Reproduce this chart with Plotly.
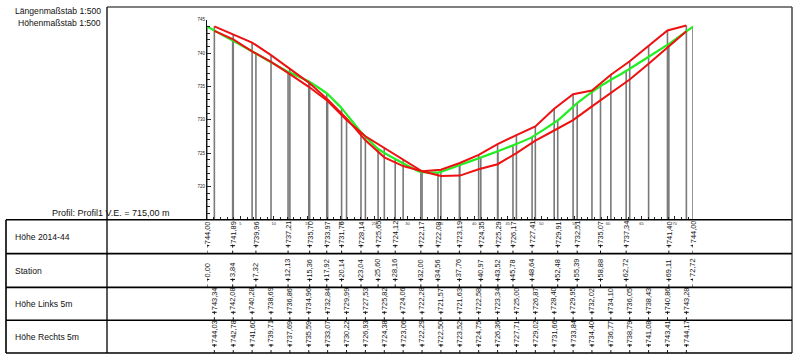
import plotly.graph_objects as go

# ---------------- data ----------------
station = [0.00, 3.84, 7.32, 12.13, 15.36, 17.92, 20.14, 23.04, 25.60, 28.16, 32.00, 34.56,
           37.76, 40.97, 43.52, 45.78, 48.64, 52.48, 55.39, 58.88, 62.72, 69.11, 72.72]
hoehe = [744.00, 741.89, 739.96, 737.21, 735.70, 733.97, 731.76, 728.14, 725.65, 724.12, 722.17, 722.08,
         723.19, 724.35, 725.29, 726.17, 727.41, 729.91, 732.51, 735.07, 737.34, 741.40, 744.00]

lr_station = [1.10, 3.93, 6.75, 9.58, 12.40, 15.23, 18.05, 20.88, 23.70, 26.53, 29.35, 32.18, 35.00,
              37.83, 40.65, 43.48, 46.30, 49.13, 51.95, 54.78, 57.60, 60.43, 63.25, 66.08, 68.90, 71.73]
links = [743.34, 742.08, 740.28, 738.69, 736.86, 734.96, 732.84, 729.99, 727.53, 725.82, 724.06, 722.28, 721.57,
         721.63, 722.58, 723.34, 725.00, 726.87, 728.40, 729.95, 732.02, 734.10, 736.05, 738.43, 740.86, 743.28]
rechts = [744.03, 742.78, 741.60, 739.71, 737.69, 735.59, 733.07, 730.22, 726.93, 724.38, 723.06, 722.29, 722.50,
          723.52, 724.75, 726.36, 727.71, 729.02, 731.66, 733.84, 734.40, 736.77, 738.79, 741.08, 743.41, 744.17]

row_titles = ["Höhe 2014-44", "Station", "Höhe Links 5m", "Höhe Rechts 5m"]
datum = 715.0
y_ticks = [720, 725, 730, 735, 740, 745]
x_ticks = [5, 10, 15, 20, 25, 30, 35, 40, 45, 50, 55, 60, 65, 70]

# ---------------- layout constants (pixels) ----------------
W, H = 800, 361
X_AX0, X_AX1 = 207, 693
Y_BASE, Y_TOP = 219, 18
ROWS = [219, 253, 287, 320, 353]
T_LEFT, T_DIV, T_RIGHT, F_TOP = 6, 107, 792, 5
FONT = "Liberation Sans, Arial, sans-serif"


def fmt(v):
    return f"{v:.2f}".replace(".", ",")


fig = go.Figure()

# gray station verticals
vx, vy = [], []
for s, h in zip(station, hoehe):
    vx += [s, s, None]
    vy += [datum, h, None]
for s, l, r in zip(lr_station, links, rechts):
    vx += [s, s, None]
    vy += [datum, max(l, r), None]
fig.add_trace(go.Scatter(x=vx, y=vy, mode="lines", line=dict(color="#7a7a7a", width=1.6),
                         hoverinfo="skip", showlegend=False))

fig.add_trace(go.Scatter(x=station, y=hoehe, mode="lines",
                         line=dict(color="#22ee22", width=2.2, shape="spline", smoothing=0.3),
                         showlegend=False, name="Höhe 2014-44"))
fig.add_trace(go.Scatter(x=lr_station, y=links, mode="lines", line=dict(color="#ee1111", width=2),
                         showlegend=False, name="Höhe Links 5m"))
fig.add_trace(go.Scatter(x=lr_station, y=rechts, mode="lines", line=dict(color="#ee1111", width=2),
                         showlegend=False, name="Höhe Rechts 5m"))

# invisible pixel overlay axes for frame/table
fig.add_trace(go.Scatter(x=[0], y=[0], xaxis="x2", yaxis="y2", mode="markers",
                         marker=dict(opacity=0), hoverinfo="skip", showlegend=False))

shapes = []


def pline(x0, y0, x1, y1, color="#000", width=1.5):
    shapes.append(dict(type="line", xref="x2", yref="y2", x0=x0, y0=y0, x1=x1, y1=y1,
                       line=dict(color=color, width=width), layer="above"))


# outer frame of profile
pline(T_DIV, F_TOP, T_RIGHT, F_TOP, "#555", 1.5)
pline(T_RIGHT, F_TOP, T_RIGHT, ROWS[-1], "#444", 1.5)
pline(T_DIV, F_TOP, T_DIV, ROWS[-1], "#222", 1.5)
# table
for yy in ROWS:
    pline(T_LEFT, yy, T_RIGHT, yy, "#000", 1.6)
pline(T_LEFT, ROWS[0], T_LEFT, ROWS[-1], "#000", 1.6)

annotations = []
annotations.append(dict(text="Längenmaßstab 1:500", x=103, y=9, xref="x2", yref="y2", xanchor="right",
                        yanchor="middle", showarrow=False, font=dict(family=FONT, size=8.6, color="#111")))
annotations.append(dict(text="Höhenmaßstab 1:500", x=103, y=21, xref="x2", yref="y2", xanchor="right",
                        yanchor="middle", showarrow=False, font=dict(family=FONT, size=8.6, color="#111")))
annotations.append(dict(text="Profil: Profil1 V.E. = 715,00 m", x=50, y=212, xref="x2", yref="y2", xanchor="left",
                        yanchor="middle", showarrow=False, font=dict(family=FONT, size=9, color="#111")))

for i, t in enumerate(row_titles):
    yc = (ROWS[i] + ROWS[i + 1]) / 2
    annotations.append(dict(text=t, x=13, y=yc, xref="x2", yref="y2", xanchor="left", yanchor="middle",
                            showarrow=False, font=dict(family=FONT, size=8.6, color="#111")))

row_data = [
    (station, [fmt(v) for v in hoehe]),
    (station, [fmt(v) for v in station]),
    (lr_station, [fmt(v) for v in links]),
    (lr_station, [fmt(v) for v in rechts]),
]
for i, (xs, labels) in enumerate(row_data):
    rb = ROWS[i + 1]
    for s, lab in zip(xs, labels):
        annotations.append(dict(text=lab, x=s, y=rb - 9, xref="x", yref="y2", xanchor="center", yanchor="bottom",
                                textangle=-90, showarrow=False, borderpad=0,
                                font=dict(family=FONT, size=7.4, color="#111")))
        shapes.append(dict(type="line", xref="x", yref="y2", x0=s - 0.35, x1=s + 0.35, y0=rb - 8, y1=rb - 8,
                           line=dict(color="#111", width=1)))
        shapes.append(dict(type="line", xref="x", yref="y2", x0=s, x1=s, y0=rb - 9, y1=rb - 6,
                           line=dict(color="#111", width=1)))
        shapes.append(dict(type="line", xref="x", yref="y2", x0=s, x1=s, y0=rb - 3, y1=rb,
                           line=dict(color="#111", width=1)))

fig.update_layout(
    width=W, height=H, margin=dict(l=0, r=0, t=0, b=0),
    paper_bgcolor="white", plot_bgcolor="rgba(0,0,0,0)",
    showlegend=False,
    xaxis=dict(domain=[X_AX0 / W, X_AX1 / W], range=[0, 72.72], showgrid=False, zeroline=False,
               showline=False, ticks="inside", ticklen=4, tickcolor="#222", tickwidth=1,
               tickvals=x_ticks, ticktext=[str(v) for v in x_ticks],
               tickfont=dict(family=FONT, size=4, color="#333"),
               minor=dict(dtick=1, tick0=0, ticks="inside", ticklen=3, tickcolor="#222", tickwidth=1),
               fixedrange=True),
    yaxis=dict(domain=[1 - Y_BASE / H, 1 - Y_TOP / H], range=[datum, 745], showgrid=False, zeroline=False,
               showline=True, linecolor="#111", linewidth=1.2, ticks="inside", ticklen=4, tickcolor="#222",
               tickvals=y_ticks, ticktext=[str(v) for v in y_ticks],
               tickfont=dict(family=FONT, size=4.5, color="#222"),
               minor=dict(dtick=1, tick0=715, ticks="inside", ticklen=3, tickcolor="#222", tickwidth=1),
               fixedrange=True),
    xaxis2=dict(domain=[0, 1], range=[0, W], visible=False, anchor="y2", fixedrange=True),
    yaxis2=dict(domain=[0, 1], range=[H, 0], visible=False, anchor="x2", fixedrange=True),
    shapes=shapes, annotations=annotations,
)

fig.write_html("out.html", config={"displayModeBar": False},
               post_script="document.body.style.margin='0';document.body.style.overflow='hidden';")
